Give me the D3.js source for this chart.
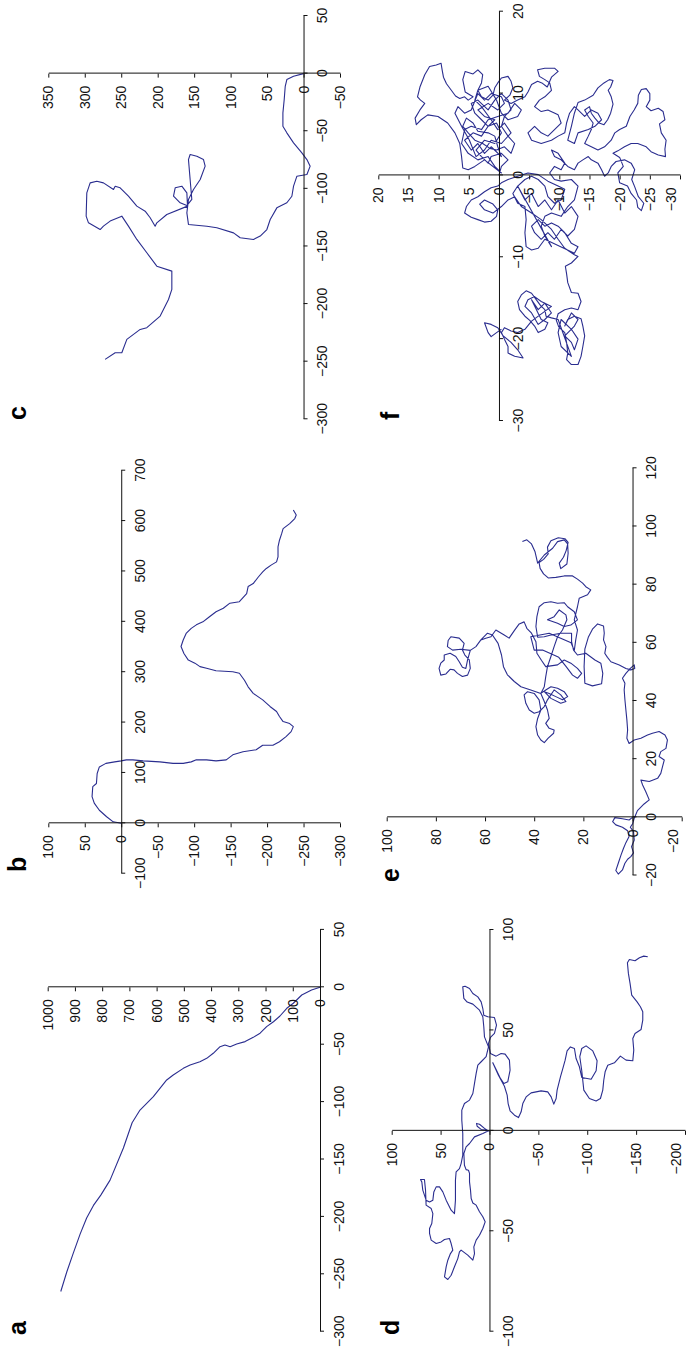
<!DOCTYPE html>
<html>
<head>
<meta charset="utf-8">
<script src="https://cdn.jsdelivr.net/npm/d3@7"></script>
<style>
  body { margin: 0; background: #fff; }
  text { font-family: "Liberation Sans", Arial, sans-serif; }
</style>
</head>
<body>
<svg id="fig" width="686" height="1357"></svg>
<script>
// tick values of each panel
const ticksAX = [-300, -250, -200, -150, -100, -50, 0, 50];
const ticksAY = [0, 100, 200, 300, 400, 500, 600, 700, 800, 900, 1000];
const ticksBX = [-100, 0, 100, 200, 300, 400, 500, 600, 700];
const ticksBY = [-300, -250, -200, -150, -100, -50, 0, 50, 100];
const ticksCX = [-300, -250, -200, -150, -100, -50, 0, 50];
const ticksCY = [-50, 0, 50, 100, 150, 200, 250, 300, 350];
const ticksDX = [-100, -50, 0, 50, 100];
const ticksDY = [-200, -150, -100, -50, 0, 50, 100];
const ticksEX = [-20, 0, 20, 40, 60, 80, 100, 120];
const ticksEY = [-20, 0, 20, 40, 60, 80, 100];
const ticksFX = [-30, -20, -10, 0, 10, 20];
const ticksFY = [-30, -25, -20, -15, -10, -5, 0, 5, 10, 15, 20];

// trajectories, [x, y]
const trackA = [[0,0],[-2.3,31],[-6.7,67],[-13.9,98],[-18.3,122],[-25,147],[-30,171],[-34.3,196],[-40,220],
  [-43.6,245],[-47.3,275],[-49.4,306],[-51.7,330],[-50.2,349],[-51.7,367],[-57.5,392],[-61.9,416],[-64.8,441],
  [-67.7,477],[-70.6,502],[-76.4,539],[-80.7,563],[-95.3,612],[-106.9,661],[-118,690],[-140,722],[-168,771],
  [-181,805],[-190,832],[-201,857],[-215,881],[-231.6,906],[-248,930],[-265,952]];

const trackB = [[0,0],[3,11],[13,20],[26,30],[40,37],[53,40],[73,39],[79,34],[99,33],[112,30],[119,21],[122,9],
  [124,0],[126,-7],[126,-16],[124,-30],[122,-53],[119,-71],[119,-85],[122,-96],[126,-103],[126,-117],[124,-130],
  [126,-144],[136,-153],[142,-167],[146,-185],[155,-194],[155,-208],[162,-217],[172,-226],[182,-233],[192,-236],
  [198,-231],[202,-222],[212,-217],[222,-213],[232,-204],[245,-194],[258,-181],[271,-174],[284,-169],[298,-162],
  [301,-153],[303,-130],[308,-117],[311,-108],[318,-101],[324,-92],[337,-86],[351,-82],[364,-85],[377,-89],
  [387,-96],[394,-103],[400,-112],[410,-121],[420,-130],[427,-140],[437,-149],[440,-162],[456,-172],[470,-174],
  [476,-181],[489,-188],[499,-194],[506,-199],[513,-206],[519,-213],[529,-215],[549,-215],[562,-217],[575,-220],
  [585,-222],[595,-231],[605,-238],[612,-240],[622,-236]];

const trackC = [[0,0],[-2.3,13.7],[-5.2,22.9],[-11,25.1],[-22.5,26.5],[-34.1,28.3],[-45.7,28.3],[-51.4,22.9],
  [-60.1,13.7],[-68.8,2.3],[-74.6,-4.6],[-80.3,-9.1],[-87.6,-4.6],[-89,9.1],[-97.7,13.7],[-106.4,16],[-112.1,22.9],
  [-116.5,36.6],[-126.6,45.7],[-135.3,50.3],[-141,59.4],[-143.9,68.6],[-142.5,86.9],[-138.2,96],[-133.8,118.9],
  [-132.4,132.6],[-130.9,157.8],[-120.8,160],[-109.2,157.8],[-100.6,150.9],[-91.9,141.7],[-80.3,134.9],[-74.6,137.2],
  [-71.7,146.3],[-70.2,155.5],[-74.6,157.8],[-91.9,155.5],[-109.2,153.2],[-114.5,160],[-112.1,169.2],[-106.4,178.3],
  [-99.1,176],[-97.7,166.9],[-103.5,160],[-115,159.1],[-122.3,187.5],[-129.5,201.2],[-132.4,203.5],[-125.1,210.3],
  [-119.4,217.2],[-115,228.6],[-106.4,240.1],[-99.1,251.5],[-97.7,258.3],[-100.6,260.6],[-94.8,274.4],[-93.4,283.5],
  [-94.8,292.6],[-103.5,297.2],[-123.7,298.1],[-129.5,294.9],[-135.3,278.9],[-132.4,274.4],[-128,265.2],[-123.7,249.2],
  [-132.4,240.1],[-143.9,228.6],[-155.5,214.9],[-167.1,201.2],[-171.4,180.6],[-187.3,180.6],[-196,185.2],[-210.4,196.6],
  [-220.5,214.9],[-222,224],[-230.6,242.3],[-242.2,249.2],[-242.2,258.3],[-248,272.1]];

const trackD = [[0,0],[0.7,8.5],[2.3,12.6],[3.7,13.3],[3.3,10.2],[1.2,5.1],[0,1],[-1.3,6.8],[-3,15.3],[-6.3,20.4],
  [-8,23.9],[-11.3,26.2],[-17.1,25.6],[-19.3,23.9],[-19.6,21.5],[-21.2,20.4],[-25.4,20.4],[-29.5,19.4],[-33.7,18.7],
  [-35.9,17],[-37,13.6],[-40.3,10.2],[-42.8,6.8],[-45.3,4.4],[-48.6,6.8],[-52,10.2],[-54.4,13.6],[-57.8,16],
  [-61.1,15.3],[-64.4,17],[-61.9,22.2],[-59.4,29],[-60.3,30.7],[-63.6,32.4],[-67.7,35.8],[-71.9,39.2],[-74,42.6],
  [-72.7,46],[-67.7,44.3],[-64.4,42.6],[-61.1,39.9],[-59.4,37.5],[-56.1,39.2],[-53.6,40.9],[-54.1,46],[-55.3,49.4],
  [-56.1,54.5],[-54.4,59.6],[-51.1,61.3],[-48.6,61.3],[-46.1,59],[-41.2,57.9],[-38.7,59.6],[-37,64.8],[-29.5,65.4],
  [-24.2,66.5],[-24.2,70.6],[-25.4,69.2],[-29.5,68.2],[-32,66.5],[-34.5,64.8],[-35.4,61.3],[-34.5,57.9],[-30.4,56.9],
  [-27.9,54.5],[-27.9,51.1],[-30.4,47.7],[-34.5,44.3],[-39.5,39.2],[-41.2,35.8],[-34.5,34.8],[-24.6,34.8],[-20.4,34.1],
  [-18.8,30.7],[-16.3,29],[-12.1,27.3],[-8,27.3],[-1.3,27.3],[5.3,28.3],[10.3,28.3],[13.6,25.6],[15.3,20.4],[18.6,17],
  [23.6,15.3],[28.6,13.6],[32.7,11.9],[34.4,8.5],[36.9,3.4],[41.8,1],[46.8,5.1],[51.8,5.8],[56.8,6.8],[60.1,10.2],
  [63.1,17],[64.1,22.8],[65.9,26.2],[71.7,27.3],[72,24.9],[70.9,20.4],[68.4,17],[66.7,11.9],[64.2,8.5],[60.9,6.8],
  [57.6,5.8],[56.8,1.7],[56.4,-5.1],[52.6,-7.2],[48.5,-5.1],[46.5,-1],[43.5,1],[38.5,-1],[37.2,-6.8],[38.5,-11.9],
  [38.2,-16],[35.2,-20.4],[30.2,-21.1],[24.4,-18.7],[23.6,-14.7],[26.1,-11.2],[30.5,-6.8],[33.9,-3.4],[27.7,-9.2],
  [22.2,-15.3],[17.8,-18.1],[13.6,-19.1],[10,-21.1],[7.8,-25.6],[6.6,-29.7],[9.5,-32.4],[13.6,-34.1],[16.9,-37.5],
  [18.9,-42.6],[19.9,-52.8],[19.4,-59.6],[16.9,-63.1],[13.3,-65.8],[16.1,-68.2],[20.3,-69.2],[26.9,-72.6],[31,-75],
  [35.2,-77.4],[39.8,-79.4],[41.8,-82.8],[41,-86.9],[36,-88.6],[31.9,-92],[26.6,-94.4],[25.7,-104],[29.9,-109.1],
  [34.9,-110.1],[39.8,-105.7],[42.3,-98.8],[41,-94.4],[36.9,-92.4],[29.9,-94.4],[20.3,-96.5],[16.1,-102.2],
  [14.9,-109.1],[16.1,-113.5],[20.3,-115.9],[25.2,-116.9],[29.4,-118.3],[32.7,-121],[33.9,-127.8],[37.2,-133.9],
  [35.2,-139.7],[34.9,-146.6],[40.2,-147.6],[46,-146.6],[48.5,-148.9],[50.5,-155.1],[55.1,-156.8],[59.3,-156.8],
  [61.8,-154.4],[64.2,-151],[67.6,-145.5],[73.4,-143.8],[78.4,-142.1],[83.7,-141.1],[85.3,-143.1],[84.7,-148.9],
  [86.2,-153.4],[87,-157.8],[86.7,-161.9]];

const trackE = [[0,0],[-0.9,1.4],[-0.5,4.1],[-0.1,7.2],[-1.5,8.1],[-2.6,6.8],[-3.4,4.1],[-4.6,2],[-6.6,1.4],
  [-8.7,2.7],[-10.7,3.7],[-13,4.7],[-15.8,5.8],[-18.3,6.8],[-19.5,5.8],[-18.1,4.1],[-15.8,3.1],[-14.4,2],[-13.5,0.7],
  [-12.2,-0.4],[-10.1,0.4],[-7.8,-0.7],[-4.9,-0.4],[-3.4,0.9],[-2.1,-0.1],[-0.3,-0.7],
  [2.3,-2],[4.6,-4.7],[6,-6.8],[8.8,-5.4],[11.1,-4.1],[12.8,-3.4],[12.3,-6.8],[13.4,-10.2],[15.1,-11.5],[17.4,-12.2],
  [19.7,-12.9],[20.9,-10.8],[22.6,-11.5],[23.7,-13.6],[26.6,-14.2],[28.3,-13.2],[29.5,-10.8],[28.9,-8.1],[28.3,-6.1],
  [27.2,-3.4],[26.6,-0.7],[25.4,1.4],[27.2,2.3],[30,2],[33.5,2.3],[36.9,2.7],[40.4,3.1],[43.8,3.4],[46.1,3.1],
  [47.8,4.1],[49.5,2.7],[51.2,0.9],[52.4,-0.7],[51.2,-0.9],[50.7,0.7],[51.2,2.7],[52.4,5.4],[53.5,8.8],[55,10.2],
  [56.4,11.3],[58.7,10.8],[61,11.8],[63.3,11.5],[65.8,11.8],
  [66.5,14.2],[64.7,16.3],[61.9,18],[57.8,19.4],[51.8,19.7],[46.1,19.4],[45.2,16.3],[45.9,12.6],[49.5,12.1],[53,12.9],
  [54.1,15.3],[56.4,19],[55.8,22.4],[57.5,24],[60.4,24.8],[63.3,24.8],
  [63.3,29.2],[62.7,33.2],[62.1,35.9],[61.9,38.6],[65.6,39.3],[69,38.9],[72.4,38],[73.8,35.9],[74.1,33.2],[73.6,30.5],
  [73.8,27.8],[72.4,26.4],[70.7,23.7],[67.9,22.4],[66.1,25.1],[65.6,27.8],[66.7,30.5],[67.9,34.6],[69,31.9],
  [71.3,29.8],[69.6,27.1],[67.9,26.7],[64.4,28.5],[62.1,30.5],[58.7,31.9],[55.3,33.2],[51.8,34.6],[48.4,35.3],
  [44.9,35.9],[42.6,37.3],
  [43.8,35.3],[44.9,33.2],[44.4,30.5],[43.2,27.8],[41.5,26.4],[40.4,28.5],[41.5,31.2],[42.6,33.9],[43.2,35.9],
  [40.9,33.2],[39.2,29.2],[39.8,27.1],[42.1,29.2],[43.8,31.9],[40.4,34.6],
  [38.1,35.9],[36.3,38],[35.8,40],[36.9,42],[39.2,43.4],[42.1,44.1],[43.2,42.7],[42.6,40],[40.4,38],[36.9,37.3],
  [34,38.6],[31.2,39.3],[28.3,38.6],[26.6,37.3],[25.7,35.9],[27.2,34.3],[28.9,32.1],[30,31.9],[30.6,33.9],[32.3,35.3],
  [34,33.9],[36.9,34.6],[39.8,35.9],[42.6,37.3],
  [43.8,41.4],[44.9,45.4],[46.7,48.1],[49,50.9],[51.8,52.5],[55.8,53.3],[59.8,54.7],[62.7,57],[63.3,59],[61,61.7],
  [58.7,63.7],[57.4,66],
  [54.1,67.1],[51.2,67.8],[51.6,69.2],[53.5,70.5],[55.3,71.9],[56.4,74.2],[55.8,76.6],[54.1,76.6],[53,78],[51.2,78.7],
  [48.9,78],[49.3,75.9],[50.9,74.2],[50.7,72.6],[49.5,71.2],[48.4,69.2],[48.9,67.1],[51.2,66],[54.1,66.4],[55.8,68.2],
  [57.5,69.2],[59.8,68.5],[61.6,70.5],[62.1,73.9],[60.8,75],[58.7,75.3],[57.5,73.2],[57.8,69.8],[57.4,66],
  [58.7,63.7],[61,61.7],[61.6,59.7],[62.1,57.6],[64.4,55.6],[62.7,52.2],[61.6,50.2],[64.2,48.1],[66.5,46.1],[67.2,44.1],
  [65,43],[63.3,41.1],[60.4,39.3],[56.4,38.9],[53.9,37],[51.8,35.3],[52.4,30.5],[54.1,27.8],[53,25.1],[51.2,22.4],
  [49.5,20.7],[47.8,22.4],[48.9,24.4],[51.8,27],[55,30],[57.5,36.6],[57.5,40],[62.1,41.4],[63.3,33.9],[60,25],
  [57.3,23.7],[61,23.1],[64.4,22.4],[67.9,23.7],[72.4,22.4],[75.3,21.7],[76.5,18.3],[78.2,17],[79.3,19],[80.5,20.3],
  [81.9,22.4],[83,24.4],[83,27.8],[82.5,31.2],[82.3,34.3],[83.7,36.2],[85.6,37.6],[87.6,38],[88.7,36.2],[90.6,34.3],
  [92.9,34.6],[95.1,33.2],[96.1,30.2],[95.8,27.5],[94.5,26.2],[91.7,27],[89.4,28.1],[87.4,29.8],[85.5,29.2],[87.1,26.7],
  [90.8,26.2],[94,26.4],[95.4,27.8],[94.8,30.5],[92.5,32.5],[90.2,35.9],[87.4,38.6],[91.4,39.7],[94,41.1],[95.4,43],
  [94.8,44.8]];

const trackF = [[0,0],[1.1,-0.4],[1.9,-1.5],[2.7,-0.4],[2.3,1.3],[1.5,1.8],[2.3,2.9],[3.1,3.8],[4.3,2.4],[3.9,0.7],
  [5.2,-0.4],[6.4,0.4],[6,1.8],[6.8,2.9],[7.6,4],[8.8,4.6],[9.2,3.5],[8,1.8],[9.2,0.7],[10,-0.4],[9.2,-1.5],[8,-2],
  [7.2,-0.9],[6,-0.4],[4.8,-1.5],[3.9,-2.6],[2.7,-2],[3.5,-0.9],[3.1,0.4],[3.3,1.5],[3.9,2.7],[4.3,4],[5.2,5.1],[6,6],
  [7,5.4],[6.4,4.3],[5.4,3.5],[5.2,1.8],[4.8,0.7],[3.5,0.2],
  [2.3,-0.4],[3.5,1.3],[2.7,2.4],[3.9,3.5],[3.1,4.6],[4.3,5.7],[5.2,4.3],[4.8,2.9],[6,1.8],[6.8,0.7],[7.2,2.4],[8,3.5],
  [8.8,1.8],[8,0.2],[8.8,-0.9],[9.6,-0.4],[10,1.3],[9.2,2.4],[10,3.5],[8,4.6],[7.6,5.7],[8.4,6.8],[7.6,7.3],[6,6.2],
  [4.3,4.9],[2.3,3.8],[3.1,2.4],[4.3,1.3],[3.9,-0.4],[5.2,-2],[6.4,-0.9],[5.6,0.2],[6.8,1.3],[8.4,2.9],[9.2,4],
  [10.4,3.5],[10.9,1.8],[9.2,0.4],[7.6,-0.4],[6.8,-1.5],[7.2,-3.1],[8,-3.7],[8.8,-2.6],[7.6,-1.5],[7.2,0.2],[6.8,1.8],
  [5.6,2.9],[6,4.6],[5.6,5.7],[3.9,6.2],[2.7,5.1],[1.9,3.5],[2.3,1.8],[1.1,0.7],[0.3,-0.4],
  [1.9,2.4],[1.1,4],[0.7,5.1],[0.9,6],[2.3,6.2],[3.9,6.5],[5.2,7.3],[6.4,8.5],[7.2,10.1],[7.4,11.8],[6.8,12.9],
  [6.2,13.7],[7,13.9],[8,13.1],[8.8,12.3],[9.2,13],[9.6,13.5],[10.8,13.1],[12.3,12.3],[13.3,11.5],[13.5,10.4],
  [13.7,9.6],[12.8,9.4],[12,9.2],[11.2,8.7],[10.4,7.9],[9.7,7.2],[9.4,6.5],[9.6,5.7],[9.2,5.1],[9.6,4.3],
  [10.2,5.6],[11.7,6],[12.7,5.6],[12.4,4.3],[12.9,3.5],[12.3,2.7],[11.3,2.9],[10.4,3.5],[9.6,2.9],[9.2,1.8],[9.8,1],
  [10.7,0.7],[11.3,0.2],[11.9,-0.4],[12.1,-1.5],[11.5,-2],[10.7,-2.3],[9.8,-1.8],[9.2,-0.9],
  [8.8,-2],[9.2,-3.1],[9.6,-4.3],[10.2,-4.8],[11.1,-5.4],[11.5,-6.4],[11.3,-7.1],[10.8,-8],[12,-8.7],[12.7,-9.8],
  [13.1,-9.2],[13.1,-7.6],[12.9,-6.4],[12.1,-6.7],[11.7,-7.6],[11.3,-8.4],[10.4,-8.7],[9.6,-7.6],[9.2,-6.7],[8.4,-5.9],
  [7.8,-7],[8,-8.1],
  [7.4,-9.8],[6.4,-10.3],[5.6,-9.2],[4.8,-8.1],[5.2,-7],[6,-5.9],[5.2,-4.8],[4.3,-5.4],[3.9,-7],[4.3,-8.7],[4.8,-9.8],
  [5.2,-10.9],[6.4,-11.2],[7.6,-11.7],[8.4,-12.5],
  [8,-13.1],[7.2,-14.2],[8,-15.3],[7.6,-16.4],[6.8,-17],[6,-15.9],[5.6,-14.8],[5.2,-13.1],[3.9,-12.5],[4.3,-11.4],
  [6,-12],[7.6,-12.5],
  [8.9,-13.1],[9.2,-14.2],[9.8,-15.6],[10.7,-16.4],[11.3,-17.4],[11.7,-18.3],[11.6,-18.9],[10.8,-18.5],[10.4,-18.1],
  [9.6,-18.6],[8.7,-18.9],[7.6,-18.5],[6.8,-18],[6.2,-17.4],[6.4,-16.6],[7,-15.9],[7.6,-15.3],[8.4,-15],[8,-14.2],
  [7.2,-14.8],[6.4,-15.6],[5.6,-15.3],[4.8,-14.8],[3.9,-14.2],[3.5,-15.3],[3.1,-16.4],[3.5,-17.5],[4.3,-18.6],
  [5.2,-19.2],[5.6,-20],[6,-21.1],[7.2,-21.7],[8,-22.4],[8.8,-23],[9.8,-23.1],[10.5,-23.6],[10.6,-24.4],[10,-25],
  [9.2,-25],[8.4,-24.4],[7.9,-25.2],[8.2,-26.4],[7.8,-27.2],[6.8,-27.5],[6.3,-26.6],[5.2,-26.9],[4.3,-27.7],[3.2,-27.5],
  [2.3,-27.6],[2.5,-26.4],[2.9,-25.2],[3.5,-24.4],[3.9,-23],[3.9,-21.9],[3.5,-20.8],[3,-19.7],[2.7,-18.9],
  [2.2,-20],[1.1,-20.6],[0.3,-19.7],[-0.9,-20],[-1.3,-21.3],[-2.2,-21.9],[-3,-22.8],[-3.9,-23],[-4.3,-23.6],
  [-3.4,-24],[-2.6,-23.1],[-1.4,-22.5],[-0.5,-22],[0.7,-22.5],[1.5,-21.9],[1.9,-20.8],[1.7,-19.4],[1.1,-18.6],
  [0.3,-18.1],[-0.1,-17.5],[0.7,-17],[1.5,-16.4],[1.9,-15.3],[2.3,-14.8],[1.9,-13.9],
  [1.5,-13.1],[0.7,-12.5],[1.1,-11.4],[1.9,-10.3],[2.3,-9.2],[3.1,-8.7],[2.7,-9.8],[1.5,-10.9],[0.7,-10.3],[1.1,-9.2],
  [0.3,-8.4],[-0.5,-9.2],[-0.7,-10.3],[-0.5,-12],[-1.3,-13.1],[-3,-12.5],[-3.8,-11.4],[-5,-10.3],[-4.6,-8.7],
  [-5,-7.6],[-6.2,-7],[-7.4,-7.6],[-8.7,-8.7],
  [-1.3,-3.1],[-3,-4.3],[-2.2,-5.4],[-3.8,-6.5],[-3,-7.6],[-4.2,-8.7],[-3,-9.8],[-4.6,-10.9],[-3.8,-12],[-5,-13.1],
  [-6.6,-12.5],[-7.4,-11.4],[-6.6,-10.3],[-7.8,-9.2],[-7,-8.1],[-7.8,-7],[-7,-5.9],[-6.2,-5.4],[-5.4,-6.5],
  [-6.2,-7.6],[-5.8,-8.7],[-6.2,-9.8],[-7,-10.9],[-8.3,-12],[-8.7,-13.1],[-9.5,-12.5],
  [-7.8,-7.6],[-8.9,-6.5],[-9.1,-5.4],[-8.7,-4.5],[-7,-4.3],[-5.4,-4.5],[-3.8,-4.3],[-3.4,-3.1],[-2.2,-2.3],
  [-1.3,-3.1],[-0.5,-4.3],[-0.1,-5.4],[-0.5,-6.5],[-1.3,-7.6],[-2.6,-8.1],[-3.4,-9.2],[-3,-10.3],[-1.7,-10.9],
  [-1.3,-9.8],[-0.7,-8.1],[0.1,-6.5],[0.3,-4.8],[-0.1,-3.1],[-0.5,-1.5],[-0.9,-0.4],[-1.3,0.2],[-1.5,1.3],[-2,2.4],
  [-2.6,3.5],[-3,4.6],[-3.8,5.4],[-4.6,5.7],[-5.1,4.6],[-5.4,3.5],[-5.7,2.4],[-5.6,1.3],[-5,0.4],[-4.2,0.2],[-3.5,1],
  [-3,2.4],[-3.5,3.2],[-4.2,2.4],[-4.6,1],[-3.8,-0.4],[-3,-1.5],[-2.6,-2.6],
  [-3.8,-3.7],[-4.6,-5.4],[-5.4,-7],[-6.6,-8.7],[-7.8,-9.8],[-8.9,-10.9],[-9.7,-12.5],[-9.9,-13.1],[-10.7,-12],
  [-11.1,-11],[-12,-11.2],[-13.1,-11.4],[-14.3,-12],[-14.4,-13.1],[-15.4,-13.6],
  [-16.4,-13.1],[-16.2,-12],[-16.4,-10.9],[-16.9,-9.8],[-17.7,-9.5],[-18.5,-9.9],[-19.2,-10.9],[-20.4,-11.2],
  [-21.7,-11.4],[-22.5,-11.2],[-23.1,-12],[-23.1,-13.1],[-22.1,-13.6],[-20.9,-13.9],[-19.6,-14.2],[-18.4,-13.9],
  [-17.5,-13.6],[-17.2,-12.5],[-17.6,-11.4],[-18.4,-10.9],
  [-16.8,-12],[-17.6,-13.1],[-18.4,-12.5],[-19.6,-10.9],[-20.4,-12],[-21.3,-12.5],[-20,-13.1],[-18.8,-12],
  [-17.6,-10.3],[-19.2,-9.8],[-20.9,-10.3],[-22.1,-12],
  [-17.6,-9.8],[-17.4,-8.7],[-17.2,-7.8],[-16.4,-7.6],[-15.9,-6.9],[-15.2,-6.2],[-14.4,-5.4],[-14.1,-4.5],[-14.6,-3.7],
  [-15.4,-3.1],[-16.4,-3.4],[-17.2,-4.3],[-17.7,-5.1],[-18.4,-5.9],[-19.2,-6.5],[-18.8,-7.6],[-18,-8.1],[-17.6,-7],
  [-15.2,-5.4],[-16.4,-6.5],[-15.6,-7.6],[-16.8,-8.7],[-17.6,-7.6],[-18.2,-6.5],[-16.8,-5.4],[-16,-4.3],[-15.2,-4.8],
  [-14.8,-5.9],[-15.4,-7],[-16,-8.7],
  [-17.8,-5.4],[-18.8,-4.3],[-19.2,-3.1],[-19,-2],[-18.6,-0.9],[-19.2,-0.4],[-20,-0.9],[-20.9,-1.5],[-21.7,-1.5],
  [-22.1,-2.6],[-22.3,-4],[-21.3,-3.1],[-20.4,-2],[-19.6,-0.7],[-18.6,0.2],[-18.2,1.3],[-18,2.4],[-19.2,1.8],
  [-19.7,1.3],[-19.2,0.4],[-18.8,-0.4]];

// figure geometry (drawn landscape, then turned to portrait)
const W = 1357, H = 686;
const panels = [
  { id: "a", track: trackA, xt: ticksAX, yt: ticksAY, X: [25.3, 427.1], Y: [320, 47.7], lab: [22, 26] },
  { id: "b", track: trackB, xt: ticksBX, yt: ticksBY, X: [483.3, 886.3], Y: [340, 48.3], lab: [485, 26] },
  { id: "c", track: trackC, xt: ticksCX, yt: ticksCY, X: [937.7, 1341], Y: [340, 48.3], lab: [937, 26] },
  { id: "d", track: trackD, xt: ticksDX, yt: ticksDY, X: [25.3, 427], Y: [685, 391.7], lab: [22, 399] },
  { id: "e", track: trackE, xt: ticksEX, yt: ticksEY, X: [481.5, 888.7], Y: [681.7, 386.7], lab: [475, 399] },
  { id: "f", track: trackF, xt: ticksFX, yt: ticksFY, X: [936, 1345.3], Y: [680, 378.3], lab: [937, 399] }
];

const svg = d3.select("#fig");
const root = svg.append("g").attr("transform", "translate(0," + W + ") rotate(-90)");
const fmt = d3.format("d");

panels.forEach(p => {
  const x = d3.scaleLinear().domain(d3.extent(p.xt)).range(p.X);
  const y = d3.scaleLinear().domain(d3.extent(p.yt)).range(p.Y);
  const g = root.append("g");

  // trajectory
  g.append("path")
    .datum(p.track)
    .attr("fill", "none")
    .attr("stroke", "#2a2d8f")
    .attr("stroke-width", 1.1)
    .attr("stroke-linejoin", "round")
    .attr("d", d3.line().x(d => x(d[0])).y(d => y(d[1])));

  // axes crossing at the origin
  const xAxis = g.append("g")
    .attr("transform", "translate(0," + y(0) + ")")
    .call(d3.axisBottom(x).tickValues(p.xt).tickFormat(fmt).tickSizeInner(4).tickSizeOuter(0));
  xAxis.selectAll("text").attr("y", 14);

  const yAxis = g.append("g")
    .attr("transform", "translate(" + x(0) + ",0)")
    .call(d3.axisLeft(y).tickValues(p.yt).tickFormat(fmt).tickSizeInner(4).tickSizeOuter(0));
  yAxis.selectAll("text").attr("x", -12);
  // keep the lowest label of the bottom row inside the page
  yAxis.selectAll(".tick text").filter(d => y(d) + 9 > H).attr("dy", "-0.3em");

  g.selectAll(".tick text")
    .attr("fill", "#111")
    .style("font-size", "14px")
    .style("font-family", "'Liberation Sans', Arial, sans-serif");
  g.selectAll(".domain, .tick line").attr("stroke", "#111");

  g.append("text")
    .attr("x", p.lab[0])
    .attr("y", p.lab[1])
    .attr("font-size", 25)
    .attr("font-weight", "bold")
    .text(p.id);
});
</script>
</body>
</html>
